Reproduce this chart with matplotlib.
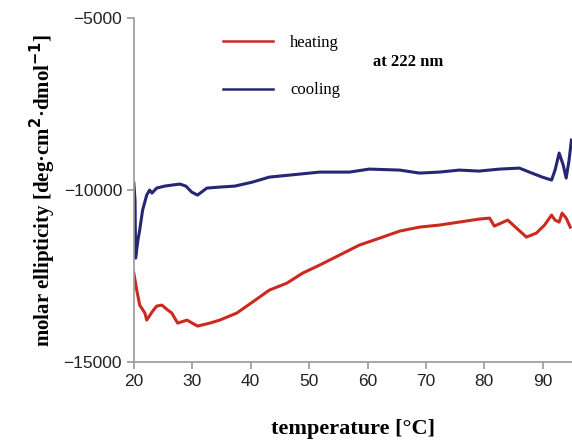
import matplotlib
matplotlib.use("Agg")
import matplotlib.pyplot as plt

heat_t = [20.0, 20.5, 21.0, 21.9, 22.2, 23.1, 23.9, 24.8, 25.6, 26.5, 27.5, 29.1, 30.9, 33.0, 34.7,
          37.6, 40.3, 43.2, 46.2, 48.9, 51.8, 55.2, 58.6, 62.1, 65.5, 68.9, 72.3, 75.7, 79.1, 80.9,
          81.7, 84.0, 85.5, 87.2, 88.9, 90.3, 91.5, 92.1, 92.8, 93.3, 94.0, 94.7]
heat_v = [-12413, -12907, -13343, -13576, -13779, -13547, -13372, -13343, -13459, -13576, -13866,
          -13779, -13953, -13866, -13779, -13576, -13256, -12907, -12704, -12413, -12180, -11890,
          -11599, -11395, -11192, -11076, -11017, -10930, -10843, -10814, -11047, -10872, -11105,
          -11366, -11250, -11017, -10727, -10872, -10930, -10669, -10814, -11076]

cool_t = [20.0, 20.2, 20.3, 20.7, 21.0, 21.5, 22.2, 22.7, 23.1, 23.9, 25.3, 26.5, 27.9, 28.9, 29.9,
          30.9, 32.5, 34.7, 37.3, 40.3, 43.2, 46.7, 51.8, 56.9, 60.3, 65.5, 68.9, 72.3, 75.7, 79.1,
          82.6, 86.0, 87.7, 89.9, 91.5, 92.1, 92.8, 93.5, 94.0, 94.5, 94.9]
cool_v = [-9797, -10290, -11977, -11453, -11163, -10581, -10145, -10000, -10087, -9942, -9884, -9855,
          -9826, -9884, -10058, -10145, -9942, -9913, -9884, -9768, -9622, -9564, -9477, -9477, -9390,
          -9419, -9506, -9477, -9419, -9448, -9390, -9361, -9477, -9622, -9709, -9419, -8924, -9273,
          -9651, -9128, -8546]

x_ticks = [20, 30, 40, 50, 60, 70, 80, 90]
y_ticks = [-15000, -10000, -5000]

fig = plt.figure(figsize=(5.72, 4.40), dpi=100)
ax = fig.add_axes([0.234, 0.177, 0.766, 0.782])

ax.plot(heat_t, heat_v, color="#cc2a1e", lw=2.2, label="heating")
ax.plot(cool_t, cool_v, color="#262673", lw=2.2, label="cooling")

ax.set_xlim(20, 95)
ax.set_ylim(-15000, -5000)
ax.set_xticks(x_ticks)
ax.set_yticks(y_ticks)
ax.set_yticklabels(["\u221215000", "\u221210000", "\u22125000"])

for s in ["top", "right"]:
    ax.spines[s].set_visible(False)
for s in ["left", "bottom"]:
    ax.spines[s].set_color("#9a9a9a")
    ax.spines[s].set_linewidth(1.2)
ax.tick_params(axis="both", colors="#9a9a9a", length=5, width=1.2, direction="out",
               labelcolor="#222222", labelsize=12.5)
for lab in ax.get_xticklabels() + ax.get_yticklabels():
    lab.set_family("Liberation Sans")

ax.set_xlabel("temperature [\u00b0C]", fontsize=16, fontweight="bold", family="Liberation Serif", labelpad=22)
ax.set_ylabel("molar ellipticity [deg\u00b7cm$^{\\mathbf{2}}$\u00b7dmol$^{\\mathbf{-1}}$]", fontsize=15,
              fontweight="bold", family="Liberation Serif", labelpad=4)

leg = ax.legend(loc="upper left", bbox_to_anchor=(0.17, 0.995), frameon=False,
                prop={"family": "Liberation Serif", "size": 12}, handlelength=3.0,
                labelspacing=1.9, handletextpad=1.0)
for h in leg.get_lines():
    h.set_linewidth(1.8)
fig.text(0.652, 0.86, "at 222 nm", fontsize=12, fontweight="bold", family="Liberation Serif",
         va="center", ha="left")

fig.savefig("out.png", dpi=100)
